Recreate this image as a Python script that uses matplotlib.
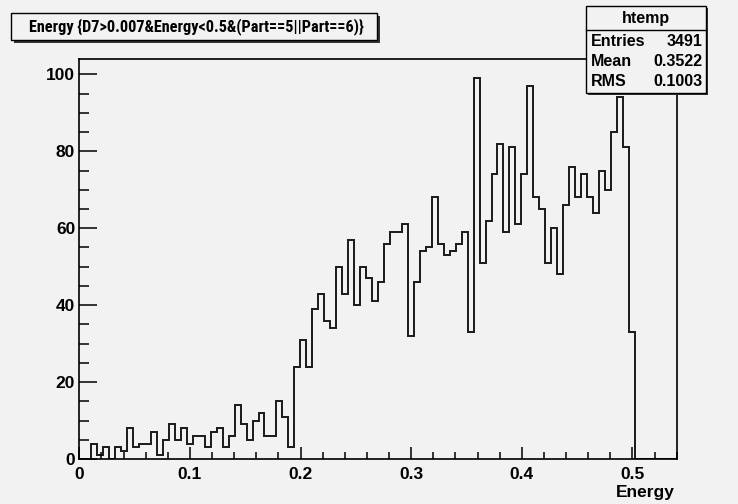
import numpy as np
import matplotlib
matplotlib.use("Agg")
import matplotlib.pyplot as plt
from matplotlib.patches import Rectangle
from matplotlib.ticker import MultipleLocator, FixedFormatter, FixedLocator
from matplotlib import font_manager

# ---- data (100 bins, 0 .. 0.54) ----
x_min, x_max, n_bins = 0.0, 0.54, 100
counts = [0, 0, 4, 1, 3, 0, 3, 2, 8, 3,
          4, 4, 7, 1, 5, 9, 5, 8, 4, 6,
          6, 3, 7, 8, 3, 6, 14, 9, 5, 10,
          12, 6, 6, 15, 11, 3, 24, 31, 24, 39,
          43, 36, 34, 50, 43, 57, 40, 50, 47, 41,
          46, 56, 59, 59, 61, 32, 46, 54, 55, 68,
          56, 53, 54, 56, 59, 33, 99, 51, 62, 74,
          82, 59, 81, 61, 74, 97, 68, 65, 51, 60,
          48, 66, 76, 68, 74, 68, 64, 75, 70, 85,
          94, 81, 33, 0, 0, 0, 0, 0, 0, 0]
x_ticks = [0, 0.1, 0.2, 0.3, 0.4, 0.5]
x_tick_labels = ["0", "0.1", "0.2", "0.3", "0.4", "0.5"]
y_ticks = [0, 20, 40, 60, 80, 100]
y_tick_labels = ["0", "20", "40", "60", "80", "100"]
title = "Energy {D7>0.007&Energy<0.5&(Part==5||Part==6)}"
x_title = "Energy"
stats_name = "htemp"
stats_rows = [("Entries", "3491"), ("Mean", "0.3522"), ("RMS", "0.1003")]

W, H = 738, 504
BG = "#f2f2f2"
FONT = "Liberation Sans"
names = {f.name for f in font_manager.fontManager.ttflist}
TFONT = FONT
for cand in ["Liberation Sans Narrow", "Arimo Narrow", "Roboto Condensed",
             "Archivo Narrow", "Asap Condensed"]:
    if cand in names:
        TFONT = cand
        break

fig = plt.figure(figsize=(W / 100, H / 100), dpi=100, facecolor=BG)

def fx(px):
    return px / W

def fy(py):
    return 1 - py / H

# axes frame in pixels
L, R, T, B = 79.3, 676.7, 59.0, 459.0
ax = fig.add_axes([fx(L), fy(B), fx(R) - fx(L), fy(T) - fy(B)])
ax.set_facecolor(BG)

edges = np.linspace(x_min, x_max, n_bins + 1)
ax.stairs(counts, edges, color="#1a1a1a", linewidth=1.4, baseline=None)

ax.set_xlim(x_min, x_max)
ax.set_ylim(0, 104)

for s in ax.spines.values():
    s.set_linewidth(1.2)
    s.set_color("black")

ax.xaxis.set_major_locator(FixedLocator(x_ticks))
ax.xaxis.set_major_formatter(FixedFormatter(x_tick_labels))
ax.xaxis.set_minor_locator(MultipleLocator(0.02))
ax.yaxis.set_major_locator(FixedLocator(y_ticks))
ax.yaxis.set_major_formatter(FixedFormatter(y_tick_labels))
ax.yaxis.set_minor_locator(MultipleLocator(5))

ax.tick_params(axis="x", which="major", direction="in", length=8.6, width=1.1,
               pad=6, labelsize=12.5, top=False)
ax.tick_params(axis="x", which="minor", direction="in", length=5, width=1.1, top=False)
ax.tick_params(axis="y", which="major", direction="in", length=13, width=1.1,
               pad=3, labelsize=12.5, right=False)
ax.tick_params(axis="y", which="minor", direction="in", length=7, width=1.1, right=False)
for lab in ax.get_xticklabels() + ax.get_yticklabels():
    lab.set_fontfamily(FONT)
    lab.set_fontweight("bold")

# x axis title
fig.text(fx(675), fy(492), x_title, ha="right", va="center", fontsize=12.5,
         fontweight="bold", family=FONT)

# ---- boxes ----
def box(x0, y0, x1, y1, shadow=3):
    fig.patches.append(Rectangle((fx(x0 + shadow), fy(y1 + shadow)),
                                 fx(x1) - fx(x0), fy(y0) - fy(y1),
                                 transform=fig.transFigure, facecolor="#333333",
                                 edgecolor="none", zorder=1))
    fig.patches.append(Rectangle((fx(x0), fy(y1)), fx(x1) - fx(x0), fy(y0) - fy(y1),
                                 transform=fig.transFigure, facecolor=BG,
                                 edgecolor="black", linewidth=1.0, zorder=2))

box(11, 13, 377, 40)
t = fig.text(fx(196), fy(27), title, ha="center", va="center", fontsize=12,
             fontweight="bold", family=TFONT, zorder=3)
# fit the title to the box width (~335 px), capped in size
r = fig.canvas.get_renderer()
w = t.get_window_extent(renderer=r).width
t.set_fontsize(min(13.5, 12 * 335.0 / w))

box(586, 6, 706, 93, shadow=2)
fig.lines.append(plt.Line2D([fx(586), fx(706)], [fy(30), fy(30)],
                            transform=fig.transFigure, color="black", lw=1.0, zorder=3))
fig.text(fx(646), fy(19), stats_name, ha="center", va="center", fontsize=11.5,
         fontweight="bold", family=FONT, zorder=3)
for i, (k, v) in enumerate(stats_rows):
    yy = 42 + i * 20
    fig.text(fx(591), fy(yy), k, ha="left", va="center", fontsize=11.5,
             fontweight="bold", family=FONT, zorder=3)
    fig.text(fx(702), fy(yy), v, ha="right", va="center", fontsize=11.5,
             fontweight="bold", family=FONT, zorder=3)

fig.savefig("out.png", dpi=100, facecolor=BG)
